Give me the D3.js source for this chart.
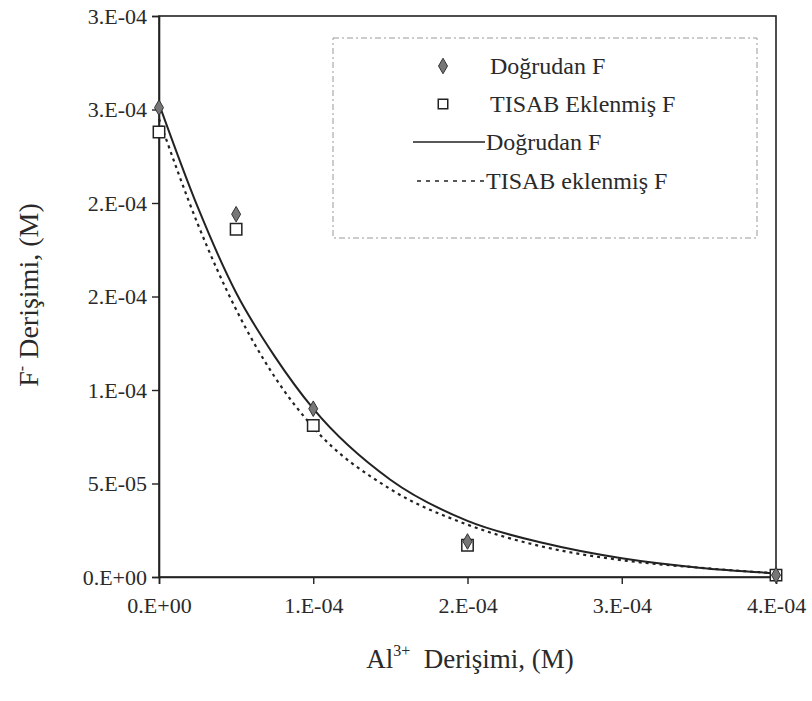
<!DOCTYPE html>
<html>
<head>
<meta charset="utf-8">
<script src="https://cdn.jsdelivr.net/npm/d3@7"></script>
<style>
  body { margin: 0; background: #fff; }
  text { font-family: "Liberation Serif", "DejaVu Serif", serif; fill: #2a2a2a; }
</style>
</head>
<body>
<div id="chart"></div>
<script>
// Data (M)
const alConc = [0, 0.5e-4, 1e-4, 2e-4, 4e-4]
const dogrudanF = [2.51e-4, 1.94e-4, 0.9e-4, 0.19e-4, 0.01e-4]
const tisabF = [2.38e-4, 1.86e-4, 0.81e-4, 0.17e-4, 0.01e-4]

// trend lines
const fitX = [0, 0.25e-4, 0.5e-4, 0.75e-4, 1e-4, 1.5e-4, 2e-4, 2.5e-4, 3e-4, 3.5e-4, 4e-4]
const fitDogrudan = [2.53e-4, 1.98e-4, 1.52e-4, 1.18e-4, 0.9e-4, 0.52e-4, 0.3e-4, 0.18e-4, 0.1e-4, 0.05e-4, 0.02e-4]
const fitTisab = [2.45e-4, 1.89e-4, 1.43e-4, 1.07e-4, 0.8e-4, 0.47e-4, 0.28e-4, 0.16e-4, 0.09e-4, 0.05e-4, 0.02e-4]

const xTicks = [0, 1e-4, 2e-4, 3e-4, 4e-4]
const xTickLabels = ['0.E+00', '1.E-04', '2.E-04', '3.E-04', '4.E-04']
const yTicks = [0, 0.5e-4, 1e-4, 1.5e-4, 2e-4, 2.5e-4, 3e-4]
const yTickLabels = ['0.E+00', '5.E-05', '1.E-04', '2.E-04', '2.E-04', '3.E-04', '3.E-04']

const legendLabels = ['Doğrudan F', 'TISAB Eklenmiş F', 'Doğrudan F', 'TISAB eklenmiş F']

// Dimensions
const width = 812
const height = 701
const margin = { top: 16, right: 36, bottom: 124, left: 159 }
const ctrWidth = width - margin.left - margin.right
const ctrHeight = height - margin.top - margin.bottom

const ink = '#222'

const svg = d3.select('#chart')
  .append('svg')
  .attr('width', width)
  .attr('height', height)

const ctr = svg.append('g')
  .attr('transform', `translate(${margin.left}, ${margin.top})`)

// Scales
const xScale = d3.scaleLinear().domain([0, 4e-4]).range([0, ctrWidth])
const yScale = d3.scaleLinear().domain([0, 3e-4]).range([ctrHeight, 0])

// frame
ctr.append('rect')
  .attr('width', ctrWidth)
  .attr('height', ctrHeight)
  .attr('fill', 'none')
  .attr('stroke', ink)
  .attr('stroke-width', 1.6)

// Axes
const xAxis = d3.axisBottom(xScale)
  .tickValues(xTicks)
  .tickSize(7)
  .tickPadding(13)
  .tickFormat((d, i) => xTickLabels[i])
const xAxisG = ctr.append('g')
  .attr('transform', `translate(0, ${ctrHeight})`)
  .call(xAxis)

const yAxis = d3.axisLeft(yScale)
  .tickValues(yTicks)
  .tickSize(7)
  .tickPadding(5)
  .tickFormat((d, i) => yTickLabels[i])
const yAxisG = ctr.append('g').call(yAxis)

;[xAxisG, yAxisG].forEach(g => {
  g.attr('font-size', null)
  g.select('.domain').attr('stroke', ink).attr('stroke-width', 1.6)
  g.selectAll('.tick line').attr('stroke', ink).attr('stroke-width', 1.4)
  g.selectAll('.tick text')
    .style('font-family', '"Liberation Serif", serif')
    .style('font-size', '22px')
    .attr('fill', '#333')
})

// Trend lines
const line = d3.line()
  .x(d => xScale(d[0]))
  .y(d => yScale(d[1]))
  .curve(d3.curveMonotoneX)

ctr.append('path')
  .datum(fitX.map((x, i) => [x, fitDogrudan[i]]))
  .attr('d', line)
  .attr('fill', 'none')
  .attr('stroke', ink)
  .attr('stroke-width', 2)

ctr.append('path')
  .datum(fitX.map((x, i) => [x, fitTisab[i]]))
  .attr('d', line)
  .attr('fill', 'none')
  .attr('stroke', ink)
  .attr('stroke-width', 2.2)
  .attr('stroke-dasharray', '3,4')

// Points
const diamond = d3.symbol().type(d3.symbolDiamond).size(70)
const square = d3.symbol().type(d3.symbolSquare).size(130)

ctr.selectAll('.sq')
  .data(alConc.map((x, i) => [x, tisabF[i]]))
  .join('path')
  .attr('class', 'sq')
  .attr('d', square)
  .attr('transform', d => `translate(${xScale(d[0])}, ${yScale(d[1])})`)
  .attr('fill', '#fff')
  .attr('stroke', ink)
  .attr('stroke-width', 1.5)

ctr.selectAll('.dm')
  .data(alConc.map((x, i) => [x, dogrudanF[i]]))
  .join('path')
  .attr('class', 'dm')
  .attr('d', diamond)
  .attr('transform', d => `translate(${xScale(d[0])}, ${yScale(d[1])})`)
  .attr('fill', '#777')
  .attr('stroke', '#333')
  .attr('stroke-width', 1)

// Legend
const legend = svg.append('g').attr('transform', 'translate(333, 38)')
legend.append('rect')
  .attr('width', 424)
  .attr('height', 200)
  .attr('fill', '#fff')
  .attr('stroke', '#999')
  .attr('stroke-width', 1)
  .attr('stroke-dasharray', '6,3,2,3')

const rowY = [28, 66, 104, 143]
legend.append('path')
  .attr('d', diamond)
  .attr('transform', `translate(110, ${rowY[0]})`)
  .attr('fill', '#777')
  .attr('stroke', '#333')
legend.append('path')
  .attr('d', d3.symbol().type(d3.symbolSquare).size(90))
  .attr('transform', `translate(110, ${rowY[1]})`)
  .attr('fill', '#fff')
  .attr('stroke', ink)
  .attr('stroke-width', 1.5)
legend.append('line')
  .attr('x1', 80).attr('x2', 152)
  .attr('y1', rowY[2]).attr('y2', rowY[2])
  .attr('stroke', ink).attr('stroke-width', 1.6)
legend.append('line')
  .attr('x1', 84).attr('x2', 152)
  .attr('y1', rowY[3]).attr('y2', rowY[3])
  .attr('stroke', ink).attr('stroke-width', 1.6)
  .attr('stroke-dasharray', '4,5')

legend.selectAll('.lbl')
  .data(legendLabels)
  .join('text')
  .attr('class', 'lbl')
  .attr('x', (d, i) => (i < 2 ? 157 : 153))
  .attr('y', (d, i) => rowY[i])
  .attr('dy', '0.35em')
  .style('font-size', '24px')
  .text(d => d)

// Axis titles
const xTitle = svg.append('text')
  .attr('x', 470)
  .attr('y', 668)
  .attr('text-anchor', 'middle')
  .style('font-size', '27px')
xTitle.append('tspan').text('Al')
xTitle.append('tspan').attr('dy', -12).style('font-size', '16px').text('3+')
xTitle.append('tspan').attr('dy', 12).text('\u00a0\u00a0Derişimi, (M)')

const yTitle = svg.append('text')
  .attr('transform', 'translate(38, 295) rotate(-90)')
  .attr('text-anchor', 'middle')
  .style('font-size', '28px')
yTitle.append('tspan').text('F')
yTitle.append('tspan').attr('dy', -11).style('font-size', '16px').text('-')
yTitle.append('tspan').attr('dy', 11).text(' Derişimi, (M)')
</script>
</body>
</html>
